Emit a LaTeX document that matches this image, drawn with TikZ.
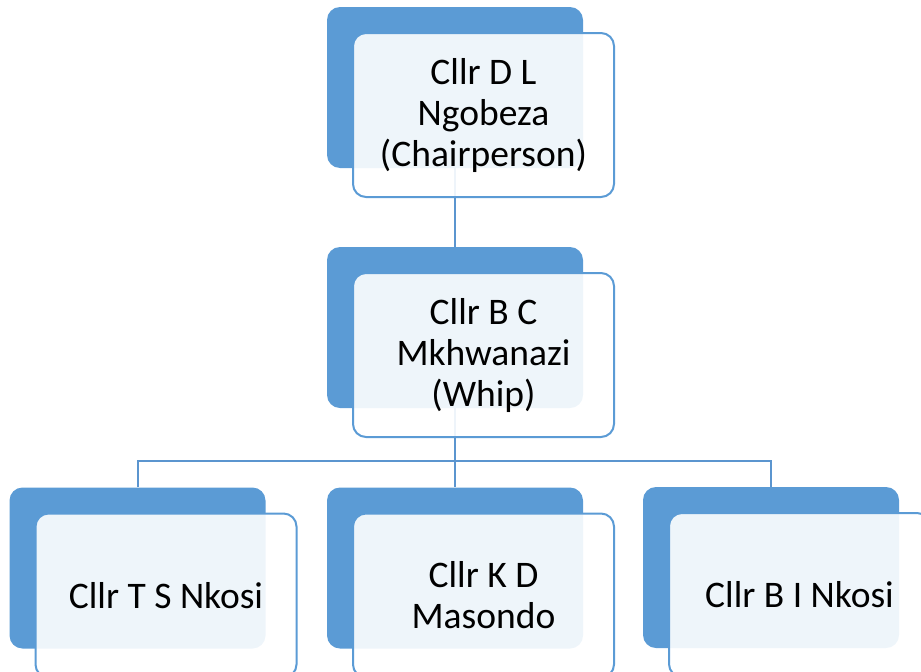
\documentclass[tikz,border=0pt]{standalone}
\usepackage{fontspec}
\setmainfont{Carlito}
\definecolor{boxblue}{HTML}{5B9BD5}
\definecolor{lineblue}{HTML}{5B95CF}
\begin{document}
\begin{tikzpicture}[x=1pt,y=-1pt,
  back/.style={fill=boxblue, rounded corners=13pt, minimum width=256pt,
    minimum height=161pt, inner sep=0pt},
  front/.style={draw=boxblue, line width=2pt, fill=white, fill opacity=0.9,
    text opacity=1, draw opacity=1, rounded corners=13pt, minimum width=261pt,
    minimum height=164pt, inner sep=0pt, align=center,
    font=\fontsize{37.5}{41}\selectfont},
  link/.style={draw=lineblue, line width=2pt}]
\useasboundingbox (0,0) rectangle (921,672);
\clip (0,0) rectangle (921,672);

% solid blue backing cards
\node[back] (chairback) at (455,87.5) {};
\node[back] (whipback)  at (455,327.5) {};
\node[back] (leftback)  at (137.5,568) {};
\node[back] (midback)   at (455,568) {};
\node[back] (rightback) at (771,567.5) {};

% connectors of the hierarchy
\coordinate (bus) at (455,461);
\draw[link] (chairback.south) -- (whipback.north);
\draw[link] (whipback.south) -- (bus);
\draw[link] (leftback.north) |- (bus) -| (rightback.north);
\draw[link] (bus) -- (midback.north);

% translucent front cards with the names
\node[front] (chair) at ([shift={(28.5,27.5)}]chairback.center)
  {Cllr D L\\Ngobeza\\(Chairperson)};
\node[front] (whip) at ([shift={(28.5,27.5)}]whipback.center)
  {Cllr B C\\Mkhwanazi\\(Whip)};
\node[front] (tsn) at ([shift={(28.5,27.5)}]leftback.center)
  {Cllr T S Nkosi};
\node[front] (kdm) at ([shift={(28.5,27.5)}]midback.center)
  {Cllr K D\\Masondo};
\node[front] (bin) at ([shift={(28.5,27.5)}]rightback.center)
  {Cllr B I Nkosi};
\end{tikzpicture}
\end{document}
